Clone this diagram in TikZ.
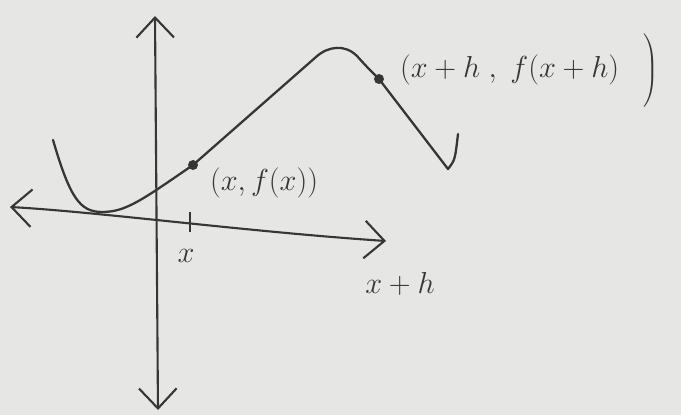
\documentclass[tikz,border=0pt]{standalone}
\usepackage{tikz}
\usetikzlibrary{arrows.meta,calc,positioning}
\definecolor{Paper}{HTML}{E6E6E4}
\definecolor{Pencil}{HTML}{363636}

\begin{document}
\begin{tikzpicture}[x=0.02cm, y=-0.02cm, >={Straight Barb[length=0.4cm, width=0.75cm, line width=1.2pt]},
    axis/.style={->, line width=1.2pt, Pencil},
    curve/.style={line width=1.3pt, Pencil, line join=round, line cap=round},
    pt/.style={circle, fill=Pencil, inner sep=0pt, minimum size=0.2cm},
    lbl/.style={font=\LARGE, Pencil, inner sep=1pt}]
    % Paper
    \fill[Paper] (0,0) rectangle (681,415);
    \useasboundingbox (0,0) rectangle (681,415);

    % Horizontal axis (slightly tilted, hand drawn)
    \coordinate (xl) at (10,207);
    \coordinate (xr) at (386,241);
    \draw[axis, <->] (xl) .. controls (100,212) and (250,232) .. (xr);

    % Vertical axis
    \coordinate (yt) at (155,16);
    \coordinate (yb) at (158,410);
    \draw[axis, <->] (yb) -- (yt);

    % Points on the curve
    \node[pt] (p1) at (193,165) {};
    \node[pt] (p2) at (379,79) {};

    % The function
    \draw[curve] (53,140) .. controls (70,198) and (80,212) .. (102,212)
        .. controls (126,212) and (142,200) .. (p1.center) -- (316,57)
        .. controls (328,46) and (345,44) .. (357,56)
        .. controls (366,66) .. (p2.center) -- (448,169)
        .. controls (455,160) .. (458,134);

    % Tick at x
    \coordinate (tx) at (190,222);
    \draw[line width=1pt, Pencil] ($(tx)+(0,-10)$) -- ($(tx)+(0,10)$);

    % Labels
    \node[lbl, anchor=west] (l1) at (208,183) {$(x,f(x))$};
    \node[lbl, anchor=west] (l2) at (398,72) {$(x+h\;,\;f(x+h)\;\;\left.\vrule width 0pt height 0.7cm depth 0.65cm\right)$};
    \node[lbl] (lx) at (186,256) {$x$};
    \node[lbl] (lxh) at (400,284) {$x+h$};

\end{tikzpicture}
\end{document}
